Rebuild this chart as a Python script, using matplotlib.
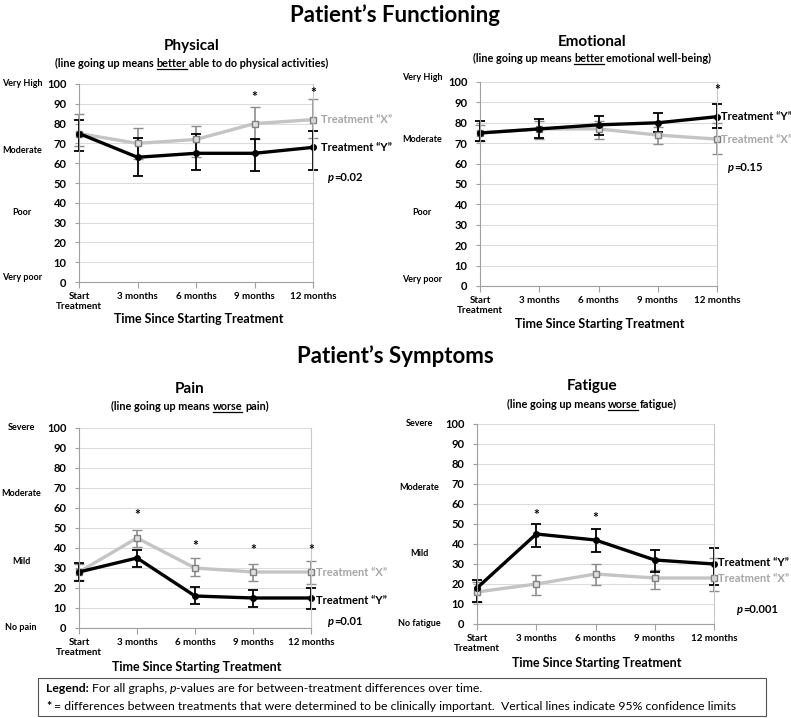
import matplotlib
matplotlib.use("Agg")
import matplotlib.pyplot as plt
from matplotlib.lines import Line2D
from matplotlib import transforms

plt.rcParams['font.family'] = ['Lato', 'DejaVu Sans']

W, H = 791, 718
DPI = 100

# ---- data ----
months = ["Start\nTreatment", "3 months", "6 months", "9 months", "12 months"]

phys_x = [75, 70, 72, 80, 82]
phys_x_lo = [68.5, 62, 63, 72, 72.5]
phys_x_hi = [85, 78, 79, 88.5, 92.5]
phys_y = [75, 63, 65, 65, 68]
phys_y_lo = [66, 53.5, 56.5, 56, 56.5]
phys_y_hi = [82, 72.5, 75, 72, 76.5]
phys_stars = [(3, 93.5), (4, 95.5)]

emo_x = [75, 77, 77, 74, 72]
emo_x_lo = [71, 72, 72, 69.5, 64.5]
emo_x_hi = [79, 81, 81, 78, 80]
emo_y = [75, 77, 79, 80, 83]
emo_y_lo = [71, 72.5, 74, 75.5, 77.5]
emo_y_hi = [81, 82, 83.5, 85, 89]
emo_stars = [(4, 96)]

pain_x = [28, 45, 30, 28, 28]
pain_x_lo = [24, 40.5, 26, 23.5, 22]
pain_x_hi = [32, 49, 35, 32, 33.5]
pain_y = [28, 35, 16, 15, 15]
pain_y_lo = [23.5, 30.5, 12, 10.5, 9.5]
pain_y_hi = [32.5, 39, 20.5, 19, 20]
pain_stars = [(1, 56.5), (2, 41), (3, 39), (4, 39)]

fat_x = [16, 20, 25, 23, 23]
fat_x_lo = [11, 14.5, 19.5, 17.5, 16.5]
fat_x_hi = [21, 24.5, 30, 27, 33]
fat_y = [18, 45, 42, 32, 30]
fat_y_lo = [11, 38.5, 36, 26, 19.5]
fat_y_hi = [22, 50, 47.5, 37, 38]
fat_stars = [(1, 54.5), (2, 53)]

fig = plt.figure(figsize=(W / DPI, H / DPI), dpi=DPI)
renderer = fig.canvas.get_renderer()


def fx(px):
    return px / W


def fy(py):
    return 1 - py / H


def rich(x, y, parts, size, ha='center', color='black'):
    # parts: (text, weight, style, underline); leading space = gap
    em = size * DPI / 72.
    gap = 0.24 * em
    arts, widths, gaps = [], [], []
    for s, wt, st, ul in parts:
        g = gap if s.startswith(' ') else 0
        t = fig.text(0, 0, s.strip(), fontsize=size, fontweight=wt, fontstyle=st,
                     va='baseline', ha='left', color=color)
        arts.append(t)
        widths.append(t.get_window_extent(renderer).width)
        gaps.append(g)
    total = sum(widths) + sum(gaps)
    cx = x - total / 2 if ha == 'center' else x
    base = y + 0.36 * em
    for t, w, g, p in zip(arts, widths, gaps, parts):
        cx += g
        t.set_position((fx(cx), fy(base)))
        if p[3]:
            fig.add_artist(Line2D([fx(cx), fx(cx + w)], [fy(base + 2), fy(base + 2)],
                                  color=color, lw=0.9))
        cx += w


def panel(box, gx, gxlo, gxhi, gy, gylo, gyhi, stars):
    left, top, right, bottom = box
    ax = fig.add_axes([fx(left), fy(bottom), (right - left) / W, (bottom - top) / H])
    ax.set_xlim(0, 4)
    ax.set_ylim(0, 100)
    ax.set_yticks(range(0, 101, 10))
    ax.set_xticks(range(5))
    ax.set_xticklabels(months, fontsize=7, fontweight='bold')
    for lab in ax.get_yticklabels():
        lab.set_fontsize(8)
        lab.set_fontweight('bold')
    ax.tick_params(axis='y', length=3, color='#a0a0a0', pad=6)
    ax.tick_params(axis='x', length=4, color='#a0a0a0', pad=3)
    ax.grid(axis='y', color='#dcdcdc', lw=0.8)
    ax.set_axisbelow(True)
    ax.spines['top'].set_visible(False)
    for s in ['left', 'bottom']:
        ax.spines[s].set_color('#a0a0a0')
    ax.spines['right'].set_color('#c8c8c8')
    xs = list(range(5))
    e1 = ax.errorbar(xs, gx, yerr=[[a - b for a, b in zip(gx, gxlo)], [b - a for a, b in zip(gx, gxhi)]],
                     color='#c4c4c4', lw=2.4, ecolor='#8c8c8c', elinewidth=1.2, capsize=3.5,
                     capthick=1.2, marker='s', ms=5, mfc='#e0e0e0', mec='#7f7f7f', mew=1)
    e2 = ax.errorbar(xs, gy, yerr=[[a - b for a, b in zip(gy, gylo)], [b - a for a, b in zip(gy, gyhi)]],
                     color='black', lw=2.4, ecolor='black', elinewidth=1.3, capsize=3.5,
                     capthick=1.3, marker='o', ms=4)
    for c in (e1, e2):
        for a in c.get_children():
            a.set_clip_on(False)
    for i, v in stars:
        ax.text(i, v, '*', ha='center', va='center', fontsize=10, fontweight='bold')
    return ax


def side_labels(ax, xc, labels):
    tr = transforms.blended_transform_factory(fig.transFigure, ax.transData)
    for s, v in labels:
        ax.text(fx(xc), v, s, transform=tr, ha='center', va='center',
                fontsize=6.5, fontweight='bold')


def treat_labels(ax, x, xv, yv):
    tr = transforms.blended_transform_factory(fig.transFigure, ax.transData)
    ax.text(fx(x), xv, 'Treatment \u201cX\u201d', transform=tr, ha='left', va='center',
            fontsize=8, color='#a6a6a6', fontweight='bold')
    ax.text(fx(x), yv, 'Treatment \u201cY\u201d', transform=tr, ha='left', va='center',
            fontsize=8, color='black', fontweight='bold')


def pval(x, y, txt):
    rich(x, y, [('p', 'bold', 'italic', False), (txt, 'bold', 'normal', False)], 8, ha='left')


def xlabel(x, y):
    fig.text(fx(x), fy(y), 'Time Since Starting Treatment', ha='center', va='center',
             fontsize=9, fontweight='bold')


def titles(x, y1, title, y2, word, rest):
    fig.text(fx(x), fy(y1), title, ha='center', va='center', fontsize=11, fontweight='bold')
    rich(x, y2, [('(line going up means', 'bold', 'normal', False), (' ' + word, 'bold', 'normal', True),
                 (' ' + rest, 'bold', 'normal', False)], 7.8)


# ---- main titles ----
fig.text(fx(395), fy(15), 'Patient\u2019s Functioning', ha='center', va='center',
         fontsize=16, fontweight='bold')
fig.text(fx(395), fy(356), 'Patient\u2019s Symptoms', ha='center', va='center',
         fontsize=16, fontweight='bold')

# ---- Physical ----
ax1 = panel((79, 84, 313, 282), phys_x, phys_x_lo, phys_x_hi, phys_y, phys_y_lo, phys_y_hi, phys_stars)
titles(192, 46, 'Physical', 63, 'better', 'able to do physical activities)')
side_labels(ax1, 22, [('Very High', 100), ('Moderate', 66.5), ('Poor', 35), ('Very poor', 2.5)])
treat_labels(ax1, 321, 82, 68)
xlabel(199, 319)
pval(328, 177, '=0.02')

# ---- Emotional ----
ax2 = panel((480, 82, 717, 286), emo_x, emo_x_lo, emo_x_hi, emo_y, emo_y_lo, emo_y_hi, emo_stars)
titles(592, 42, 'Emotional', 58, 'better', 'emotional well-being)')
side_labels(ax2, 422, [('Very High', 102), ('Moderate', 72), ('Poor', 36), ('Very poor', 3)])
treat_labels(ax2, 721, 72, 83)
xlabel(600, 324)
pval(728, 167, '=0.15')

# ---- Pain ----
ax3 = panel((79, 428, 311, 628), pain_x, pain_x_lo, pain_x_hi, pain_y, pain_y_lo, pain_y_hi, pain_stars)
titles(190, 389, 'Pain', 406, 'worse', 'pain)')
side_labels(ax3, 21, [('Severe', 100), ('Moderate', 67), ('Mild', 33.5), ('No pain', 0)])
treat_labels(ax3, 316, 27.5, 14)
xlabel(197, 667)
pval(328, 621, '=0.01')

# ---- Fatigue ----
ax4 = panel((477, 424, 714, 624), fat_x, fat_x_lo, fat_x_hi, fat_y, fat_y_lo, fat_y_hi, fat_stars)
titles(592, 386, 'Fatigue', 404, 'worse', 'fatigue)')
side_labels(ax4, 419, [('Severe', 100.5), ('Moderate', 68), ('Mild', 35.5), ('No fatigue', 0)])
treat_labels(ax4, 718, 23, 30.5)
xlabel(597, 663)
pval(737, 609, '=0.001')

# ---- legend box ----
fig.add_artist(plt.Rectangle((fx(38), fy(716)), (766 - 38) / W, (716 - 678) / H,
                             transform=fig.transFigure, fill=False, ec='#555555', lw=0.8))
rich(46, 688, [('Legend:', 'bold', 'normal', False), (' For all graphs,', 'normal', 'normal', False),
               (' p', 'normal', 'italic', False),
               ('-values are for between-treatment differences over time.', 'normal', 'normal', False)],
     8.8, ha='left')
rich(46, 706, [('*', 'bold', 'normal', False),
               (' = differences between treatments that were determined to be clinically important.  '
                'Vertical lines indicate 95% confidence limits', 'normal', 'normal', False)],
     8.8, ha='left')

fig.savefig('out.png', dpi=DPI)
